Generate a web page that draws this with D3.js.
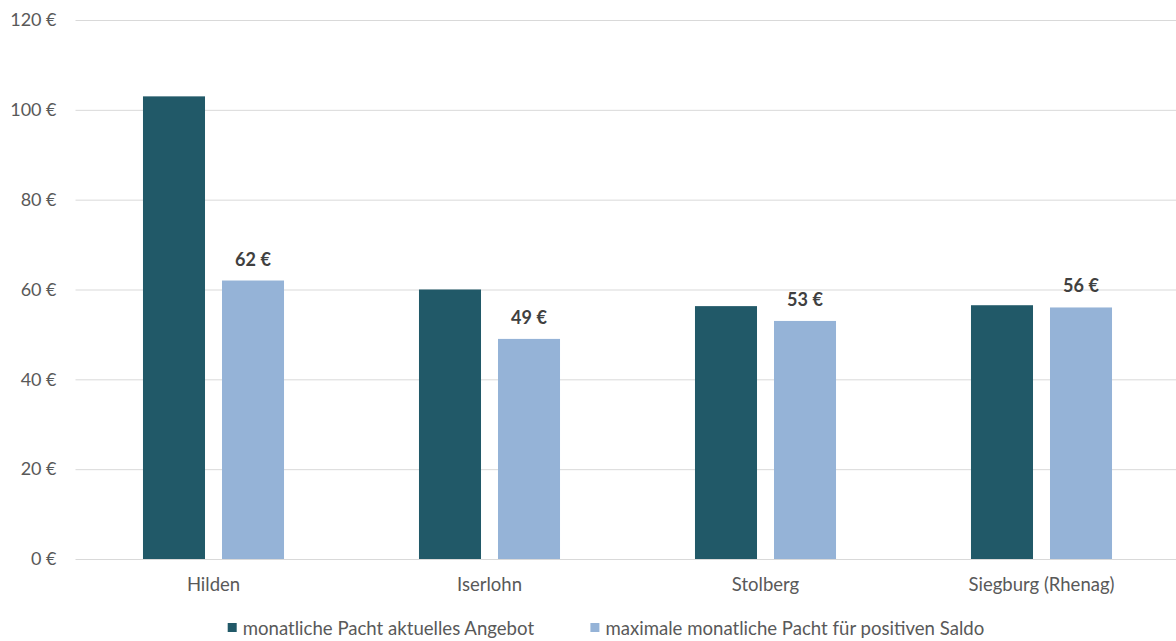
<!DOCTYPE html>
<html>
<head>
<meta charset="utf-8">
<script src="https://cdn.jsdelivr.net/npm/d3@7"></script>
<style>
  html, body { margin: 0; padding: 0; background: #ffffff; }
  svg { display: block; font-family: Lato, "Open Sans", sans-serif; }
</style>
</head>
<body>
<svg id="chart" width="1176" height="641"></svg>
<script>
const categories = ["Hilden", "Iserlohn", "Stolberg", "Siegburg (Rhenag)"];
const seriesNames = ["monatliche Pacht aktuelles Angebot", "maximale monatliche Pacht für positiven Saldo"];
const aktuellesAngebot = [103, 60, 56.3, 56.5];
const maximalePacht = [62, 49, 53, 56];
const yTicks = [0, 20, 40, 60, 80, 100, 120];
const colors = ["#215968", "#95B3D7"];

const seriesValues = [aktuellesAngebot, maximalePacht];
const data = categories.map((c, i) => ({ cat: c, values: seriesValues.map((s, j) => ({ key: seriesNames[j], idx: j, v: s[i] })) }));

const svg = d3.select("#chart");
const plotLeft = 75.5, plotRight = 1179.5, plotTop = 20, plotBottom = 559;

const x0 = d3.scaleBand().domain(categories).range([plotLeft, plotRight]).padding(0);
const x1 = d3.scaleBand().domain(seriesNames).range([0, x0.bandwidth()]).paddingInner(0.215).paddingOuter(0.854);
const y = d3.scaleLinear().domain([0, 120]).range([plotBottom, plotTop]);

// gridlines
const yAxis = d3.axisLeft(y).tickValues(yTicks).tickSize(-(1176 - plotLeft)).tickFormat(d => d + "\u202F€");
const gy = svg.append("g").attr("transform", `translate(${plotLeft},0)`).call(yAxis);
gy.select(".domain").remove();
gy.selectAll(".tick line").attr("stroke", "#d9d9d9").attr("stroke-width", 1);
gy.selectAll(".tick text").attr("x", -19).attr("fill", "#595959").attr("font-size", 18).attr("font-family", "Lato, sans-serif");

// bars
const groups = svg.append("g").selectAll("g").data(data).join("g")
  .attr("transform", d => `translate(${x0(d.cat)},0)`);
groups.selectAll("rect").data(d => d.values).join("rect")
  .attr("x", d => x1(d.key))
  .attr("y", d => y(d.v))
  .attr("width", x1.bandwidth())
  .attr("height", d => y(0) - y(d.v))
  .attr("fill", d => colors[d.idx]);

// value labels on second series
groups.selectAll("text.val").data(d => d.values.filter(v => v.idx === 1)).join("text")
  .attr("class", "val")
  .attr("x", d => x1(d.key) + x1.bandwidth() / 2)
  .attr("y", d => y(d.v) - 15)
  .attr("text-anchor", "middle")
  .attr("font-size", 18)
  .attr("font-weight", "bold")
  .attr("fill", "#404040")
  .text(d => Math.round(d.v) + "\u202F€");

// x axis
const xAxis = d3.axisBottom(x0).tickSize(0).tickPadding(0);
const gx = svg.append("g").attr("transform", `translate(0,${plotBottom})`).call(xAxis);
gx.select(".domain").remove();
gx.selectAll(".tick text").attr("y", 0).attr("dy", 32).attr("fill", "#595959").attr("font-size", 18.5).attr("font-family", "Lato, sans-serif");

// legend
const legend = svg.append("g");
const items = legend.selectAll("g").data(seriesNames).join("g");
items.append("rect").attr("width", 9).attr("height", 9).attr("y", -12).attr("fill", (d, i) => colors[i]);
items.append("text").attr("x", 15).attr("y", 0).attr("font-size", 18.6).attr("fill", "#595959").text(d => d);
let xpos = 0;
const gap = 56;
items.each(function () {
  const w = this.getBBox().width;
  d3.select(this).attr("transform", `translate(${xpos},635)`);
  xpos += w + gap;
});
const total = xpos - gap;
legend.attr("transform", `translate(${606 - total / 2},0)`);
</script>
</body>
</html>
